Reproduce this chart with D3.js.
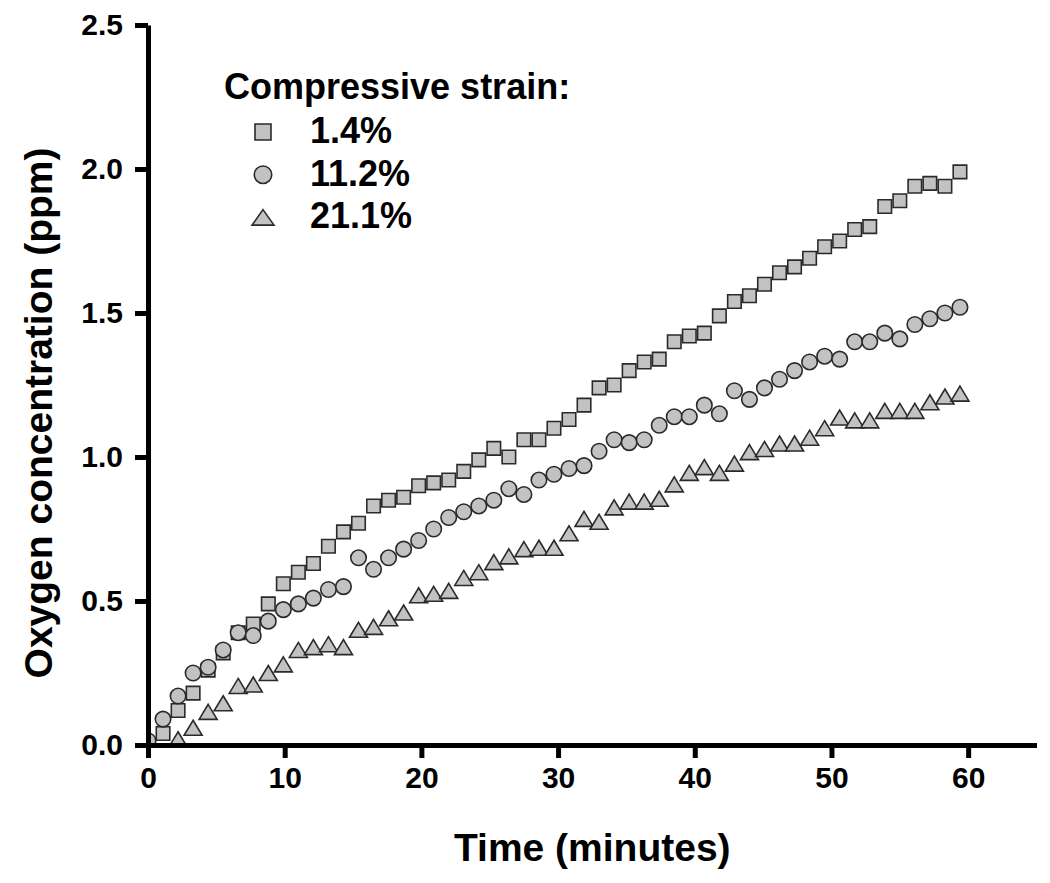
<!DOCTYPE html>
<html>
<head>
<meta charset="utf-8">
<script src="https://cdn.jsdelivr.net/npm/d3@7"></script>
<style>
  html, body { margin: 0; padding: 0; background: #fff; }
  svg { display: block; }
  text { font-family: "Liberation Sans", Arial, Helvetica, sans-serif; font-weight: bold; fill: #000; }
</style>
</head>
<body>
<svg id="chart" width="1050" height="883"></svg>
<script>
// ---- data ----
const times = [0, 1.1, 2.2, 3.3, 4.4, 5.5, 6.6, 7.7, 8.8, 9.9,
  11.0, 12.1, 13.2, 14.3, 15.4, 16.5, 17.6, 18.7, 19.8, 20.9,
  22.0, 23.1, 24.2, 25.3, 26.4, 27.5, 28.6, 29.7, 30.8, 31.9,
  33.0, 34.1, 35.2, 36.3, 37.4, 38.5, 39.6, 40.7, 41.8, 42.9,
  44.0, 45.1, 46.2, 47.3, 48.4, 49.5, 50.6, 51.7, 52.8, 53.9,
  55.0, 56.1, 57.2, 58.3, 59.4];

const strain1_4 = [null, 0.04, 0.12, 0.18, 0.26, 0.32, 0.39, 0.42, 0.49, 0.56,
  0.60, 0.63, 0.69, 0.74, 0.77, 0.83, 0.85, 0.86, 0.90, 0.91,
  0.92, 0.95, 0.99, 1.03, 1.00, 1.06, 1.06, 1.10, 1.13, 1.18,
  1.24, 1.25, 1.30, 1.33, 1.34, 1.40, 1.42, 1.43, 1.49, 1.54,
  1.56, 1.60, 1.64, 1.66, 1.69, 1.73, 1.75, 1.79, 1.80, 1.87,
  1.89, 1.94, 1.95, 1.94, 1.99];

const strain11_2 = [0.015, 0.09, 0.17, 0.25, 0.27, 0.33, 0.39, 0.38, 0.43, 0.47,
  0.49, 0.51, 0.54, 0.55, 0.65, 0.61, 0.65, 0.68, 0.71, 0.75,
  0.79, 0.81, 0.83, 0.85, 0.89, 0.87, 0.92, 0.94, 0.96, 0.97,
  1.02, 1.06, 1.05, 1.06, 1.11, 1.14, 1.14, 1.18, 1.15, 1.23,
  1.20, 1.24, 1.27, 1.30, 1.33, 1.35, 1.34, 1.40, 1.40, 1.43,
  1.41, 1.46, 1.48, 1.50, 1.52];

const strain21_1 = [null, null, 0.02, 0.06, 0.115, 0.145, 0.205, 0.21, 0.25, 0.28,
  0.33, 0.34, 0.35, 0.34, 0.40, 0.41, 0.44, 0.46, 0.52, 0.525,
  0.535, 0.58, 0.60, 0.635, 0.655, 0.68, 0.685, 0.685, 0.735, 0.785,
  0.775, 0.825, 0.845, 0.845, 0.855, 0.905, 0.945, 0.965, 0.945, 0.977,
  1.017, 1.028, 1.047, 1.047, 1.067, 1.10, 1.137, 1.127, 1.127, 1.16,
  1.16, 1.16, 1.19, 1.21, 1.22];

const seriesLabels = ["1.4%", "11.2%", "21.1%"];
const legendTitle = "Compressive strain:";
const xTicks = [0, 10, 20, 30, 40, 50, 60];
const yTicks = [0, 0.5, 1.0, 1.5, 2.0, 2.5];
const xTitle = "Time (minutes)";
const yTitle = "Oxygen concentration (ppm)";

// ---- layout ----
const svg = d3.select("#chart");
const x = d3.scaleLinear().domain([0, 65]).range([148, 1036.5]);
const y = d3.scaleLinear().domain([0, 2.5]).range([745, 25]);

const FILL = "#c2c2c2", STROKE = "#2a2a2a";

// marker shapes (relative to centre)
const shapes = {
  square: s => `M${-s/2},${-s/2}H${s/2}V${s/2}H${-s/2}Z`,
  circle: s => d3.symbol(d3.symbolCircle, Math.PI * (s/2) * (s/2))(),
  triangle: (w, h) => `M0,${-h/2}L${w/2},${h/2}L${-w/2},${h/2}Z`
};

const series = [
  { name: seriesLabels[0], values: strain1_4, path: shapes.square(13.5), legendPath: shapes.square(16) },
  { name: seriesLabels[2], values: strain21_1, path: shapes.triangle(18, 15), legendPath: shapes.triangle(22, 15.5) },
  { name: seriesLabels[1], values: strain11_2, path: shapes.circle(15.5), legendPath: shapes.circle(17.5) }
];

svg.append("defs").append("clipPath").attr("id", "plotclip")
  .append("rect")
  .attr("x", x(0)).attr("y", 0)
  .attr("width", x(65) - x(0) + 10).attr("height", y(0));

const plot = svg.append("g").attr("clip-path", "url(#plotclip)");

series.forEach(s => {
  const pts = times.map((t, i) => ({ t, v: s.values[i] })).filter(d => d.v !== null);
  plot.append("g").selectAll("path").data(pts).join("path")
    .attr("d", s.path)
    .attr("transform", d => `translate(${x(d.t)},${y(d.v)})`)
    .attr("fill", FILL)
    .attr("stroke", STROKE)
    .attr("stroke-width", 1.6);
});

// ---- axes ----
const xAxis = d3.axisBottom(x).tickValues(xTicks).tickSize(13).tickSizeOuter(0).tickPadding(9)
  .tickFormat(d3.format("d"));
const yAxis = d3.axisLeft(y).tickValues(yTicks).tickSize(13).tickSizeOuter(0).tickPadding(12)
  .tickFormat(d3.format(".1f"));

const gx = svg.append("g").attr("transform", `translate(0,${y(0)})`).call(xAxis);
const gy = svg.append("g").attr("transform", `translate(${x(0)},0)`).call(yAxis);

[gx, gy].forEach(g => {
  g.select(".domain").attr("stroke", "#000").attr("stroke-width", 5);
  g.selectAll(".tick line").attr("stroke", "#000").attr("stroke-width", 5);
  g.selectAll(".tick text")
    .attr("font-family", '"Liberation Sans", Arial, sans-serif')
    .attr("font-weight", "bold")
    .attr("font-size", 30)
    .attr("fill", "#000");
});

// axis titles
svg.append("text")
  .attr("x", (x(0) + x(65)) / 2)
  .attr("y", 861)
  .attr("text-anchor", "middle")
  .attr("font-size", 39)
  .text(xTitle);

svg.append("text")
  .attr("transform", `translate(52,${413}) rotate(-90)`)
  .attr("text-anchor", "middle")
  .attr("font-size", 39)
  .text(yTitle);

// ---- legend ----
const legend = svg.append("g");
legend.append("text")
  .attr("x", 224).attr("y", 99)
  .attr("font-size", 36)
  .text(legendTitle);

const legendOrder = [series[0], series[2], series[1]];
legendOrder.forEach((s, i) => {
  const base = 143 + i * 42.7;
  legend.append("path")
    .attr("d", s.legendPath)
    .attr("transform", `translate(263,${base - 11})`)
    .attr("fill", FILL)
    .attr("stroke", STROKE)
    .attr("stroke-width", 1.6);
  legend.append("text")
    .attr("x", 310).attr("y", base)
    .attr("font-size", 36)
    .text(s.name);
});
</script>
</body>
</html>
